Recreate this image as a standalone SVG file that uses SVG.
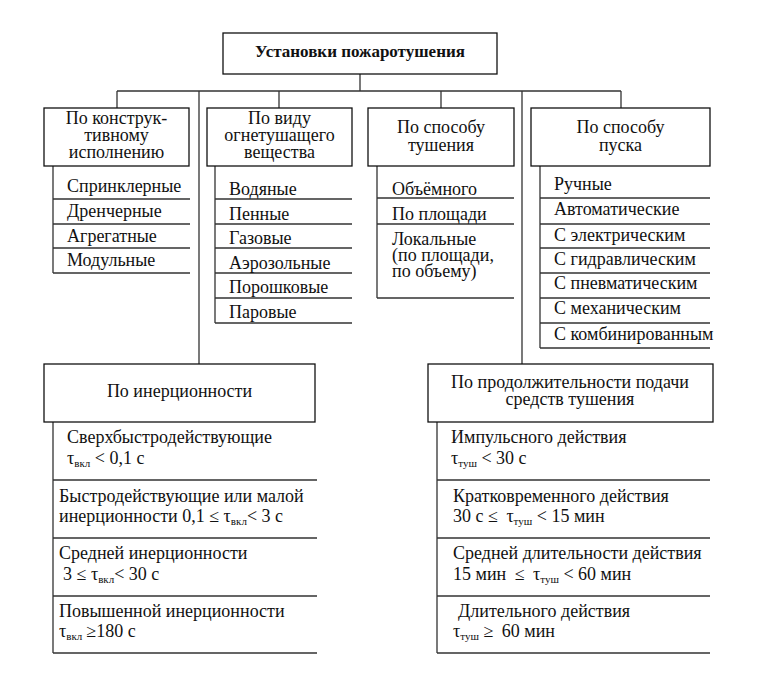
<svg xmlns="http://www.w3.org/2000/svg" width="760" height="685" viewBox="0 0 760 685">
<rect width="760" height="685" fill="#fff"/>
<g id="connectors" fill="none" stroke="#333" stroke-width="1.3">
<path d="M360 74V91M117 91H621M117 91V108M279 91V108M441 91V108M621 91V108M199 91V364M522 91V364"/>
<path d="M53 166V273M53 199H190M53 224H190M53 248H190M53 273H190"/>
<path d="M215 166V323M215 199H352M215 224H352M215 248H352M215 273H352M215 298H352M215 323H352"/>
<path d="M377 166V298M377 198H514M377 224H514M377 298H514"/>
<path d="M540 166V348M540 198H710M540 224H710M540 248H710M540 273H710M540 298H710M540 323H710M540 348H710"/>
<path d="M53 422V653M53 480H317M53 538H317M53 596H317M53 653H317"/>
<path d="M437 422V653M437 480H710M437 538H710M437 596H710M437 653H710"/>
</g>
<g fill="#fff" stroke="#111" stroke-width="1.3">
<rect id="root-box" x="223" y="33" width="274" height="41"/>
<rect id="n1-box" x="44" y="108" width="145" height="58"/>
<rect id="n2-box" x="207" y="108" width="145" height="58"/>
<rect id="n3-box" x="368" y="108" width="146" height="58"/>
<rect id="n4-box" x="531" y="108" width="179" height="58"/>
<rect id="n5-box" x="44" y="364" width="271" height="58"/>
<rect id="n6-box" x="428" y="364" width="285" height="58"/>
</g>
<g id="texts" font-family="Liberation Serif, serif" font-size="18" fill="#111">
<text id="root" font-family="Liberation Serif, serif" font-size="17" font-weight="bold" text-anchor="middle" x="360" y="57"><tspan font-family="Liberation Serif, serif">Установки пожаротушения</tspan></text>
<g id="n1" text-anchor="middle">
<text font-family="Liberation Serif, serif" x="116.5" y="124"><tspan font-family="Liberation Serif, serif">По конструк-</tspan></text>
<text font-family="Liberation Serif, serif" x="116.5" y="141"><tspan font-family="Liberation Serif, serif">тивному</tspan></text>
<text font-family="Liberation Serif, serif" x="116.5" y="158"><tspan font-family="Liberation Serif, serif">исполнению</tspan></text>
</g>
<g id="n2" text-anchor="middle">
<text font-family="Liberation Serif, serif" x="279.5" y="124"><tspan font-family="Liberation Serif, serif">По виду</tspan></text>
<text font-family="Liberation Serif, serif" x="279.5" y="141"><tspan font-family="Liberation Serif, serif">огнетушащего</tspan></text>
<text font-family="Liberation Serif, serif" x="279.5" y="158"><tspan font-family="Liberation Serif, serif">вещества</tspan></text>
</g>
<g id="n3" text-anchor="middle">
<text font-family="Liberation Serif, serif" x="441" y="133"><tspan font-family="Liberation Serif, serif">По способу</tspan></text>
<text font-family="Liberation Serif, serif" x="441" y="151"><tspan font-family="Liberation Serif, serif">тушения</tspan></text>
</g>
<g id="n4" text-anchor="middle">
<text font-family="Liberation Serif, serif" x="620.5" y="133"><tspan font-family="Liberation Serif, serif">По способу</tspan></text>
<text font-family="Liberation Serif, serif" x="620.5" y="151"><tspan font-family="Liberation Serif, serif">пуска</tspan></text>
</g>
<g id="n1items">
<text font-family="Liberation Serif, serif" x="67" y="192"><tspan font-family="Liberation Serif, serif">Спринклерные</tspan></text>
<text font-family="Liberation Serif, serif" x="67" y="217"><tspan font-family="Liberation Serif, serif">Дренчерные</tspan></text>
<text font-family="Liberation Serif, serif" x="67" y="242"><tspan font-family="Liberation Serif, serif">Агрегатные</tspan></text>
<text font-family="Liberation Serif, serif" x="67" y="266"><tspan font-family="Liberation Serif, serif">Модульные</tspan></text>
</g>
<g id="n2items">
<text font-family="Liberation Serif, serif" x="229" y="195"><tspan font-family="Liberation Serif, serif">Водяные</tspan></text>
<text font-family="Liberation Serif, serif" x="229" y="220"><tspan font-family="Liberation Serif, serif">Пенные</tspan></text>
<text font-family="Liberation Serif, serif" x="229" y="244"><tspan font-family="Liberation Serif, serif">Газовые</tspan></text>
<text font-family="Liberation Serif, serif" x="229" y="269"><tspan font-family="Liberation Serif, serif">Аэрозольные</tspan></text>
<text font-family="Liberation Serif, serif" x="229" y="293"><tspan font-family="Liberation Serif, serif">Порошковые</tspan></text>
<text font-family="Liberation Serif, serif" x="229" y="318"><tspan font-family="Liberation Serif, serif">Паровые</tspan></text>
</g>
<g id="n3items">
<text font-family="Liberation Serif, serif" x="392" y="195"><tspan font-family="Liberation Serif, serif">Объёмного</tspan></text>
<text font-family="Liberation Serif, serif" x="392" y="220"><tspan font-family="Liberation Serif, serif">По площади</tspan></text>
<text font-family="Liberation Serif, serif" x="392" y="245"><tspan font-family="Liberation Serif, serif">Локальные</tspan></text>
<text font-family="Liberation Serif, serif" x="392" y="261"><tspan font-family="Liberation Serif, serif">(по площади,</tspan></text>
<text font-family="Liberation Serif, serif" x="392" y="277"><tspan font-family="Liberation Serif, serif">по объему)</tspan></text>
</g>
<g id="n4items">
<text font-family="Liberation Serif, serif" x="554" y="190"><tspan font-family="Liberation Serif, serif">Ручные</tspan></text>
<text font-family="Liberation Serif, serif" x="554" y="215"><tspan font-family="Liberation Serif, serif">Автоматические</tspan></text>
<text font-family="Liberation Serif, serif" x="554" y="241"><tspan font-family="Liberation Serif, serif">С электрическим</tspan></text>
<text font-family="Liberation Serif, serif" x="554" y="265"><tspan font-family="Liberation Serif, serif">С гидравлическим</tspan></text>
<text font-family="Liberation Serif, serif" x="554" y="289"><tspan font-family="Liberation Serif, serif">С пневматическим</tspan></text>
<text font-family="Liberation Serif, serif" x="554" y="314"><tspan font-family="Liberation Serif, serif">С механическим</tspan></text>
<text font-family="Liberation Serif, serif" x="554" y="340"><tspan font-family="Liberation Serif, serif">С комбинированным</tspan></text>
</g>
<g id="n5" text-anchor="middle">
<text font-family="Liberation Serif, serif" x="179.5" y="397"><tspan font-family="Liberation Serif, serif">По инерционности</tspan></text>
</g>
<g id="n5items">
<text font-family="Liberation Serif, serif" x="67" y="443"><tspan font-family="Liberation Serif, serif">Сверхбыстродействующие</tspan></text>
<text font-family="Liberation Serif, serif" x="67" y="464"><tspan font-family="Liberation Serif, serif">τ<tspan font-size="11" dy="3">вкл</tspan><tspan dy="-3"> &lt; 0,1 с</tspan></tspan></text>
<text font-family="Liberation Serif, serif" x="59" y="502"><tspan font-family="Liberation Serif, serif">Быстродействующие или малой</tspan></text>
<text font-family="Liberation Serif, serif" x="59" y="522"><tspan font-family="Liberation Serif, serif">инерционности 0,1 ≤ τ<tspan font-size="11" dy="3">вкл</tspan><tspan dy="-3">&lt; 3 с</tspan></tspan></text>
<text font-family="Liberation Serif, serif" x="59" y="559"><tspan font-family="Liberation Serif, serif">Средней инерционности</tspan></text>
<text font-family="Liberation Serif, serif" x="63" y="580"><tspan font-family="Liberation Serif, serif">3 ≤ τ<tspan font-size="11" dy="3">вкл</tspan><tspan dy="-3">&lt; 30 с</tspan></tspan></text>
<text font-family="Liberation Serif, serif" x="59" y="617"><tspan font-family="Liberation Serif, serif">Повышенной инерционности</tspan></text>
<text font-family="Liberation Serif, serif" x="59" y="637"><tspan font-family="Liberation Serif, serif">τ<tspan font-size="11" dy="3">вкл</tspan><tspan dy="-3" dx="4">≥180 с</tspan></tspan></text>
</g>
<g id="n6" text-anchor="middle">
<text font-family="Liberation Serif, serif" x="570" y="388"><tspan font-family="Liberation Serif, serif">По продолжительности подачи</tspan></text>
<text font-family="Liberation Serif, serif" x="570" y="405"><tspan font-family="Liberation Serif, serif">средств тушения</tspan></text>
</g>
<g id="n6items">
<text font-family="Liberation Serif, serif" x="451" y="443"><tspan font-family="Liberation Serif, serif">Импульсного действия</tspan></text>
<text font-family="Liberation Serif, serif" x="451" y="464"><tspan font-family="Liberation Serif, serif">τ<tspan font-size="11" dy="3">туш</tspan><tspan dy="-3"> &lt; 30 с</tspan></tspan></text>
<text font-family="Liberation Serif, serif" x="453" y="502"><tspan font-family="Liberation Serif, serif">Кратковременного действия</tspan></text>
<text font-family="Liberation Serif, serif" x="453" y="522"><tspan font-family="Liberation Serif, serif">30 с ≤ <tspan dx="4">τ</tspan><tspan font-size="11" dy="3">туш</tspan><tspan dy="-3"> &lt; 15 мин</tspan></tspan></text>
<text font-family="Liberation Serif, serif" x="453" y="559"><tspan font-family="Liberation Serif, serif">Средней длительности действия</tspan></text>
<text font-family="Liberation Serif, serif" x="453" y="580"><tspan font-family="Liberation Serif, serif">15 мин <tspan dx="4">≤</tspan> <tspan dx="4">τ</tspan><tspan font-size="11" dy="3">туш</tspan><tspan dy="-3"> &lt; 60 мин</tspan></tspan></text>
<text font-family="Liberation Serif, serif" x="458" y="617"><tspan font-family="Liberation Serif, serif">Длительного действия</tspan></text>
<text font-family="Liberation Serif, serif" x="453" y="637"><tspan font-family="Liberation Serif, serif">τ<tspan font-size="11" dy="3">туш</tspan><tspan dy="-3"> ≥ <tspan dx="4">60 мин</tspan></tspan></tspan></text>
</g>
</g>
</svg>
